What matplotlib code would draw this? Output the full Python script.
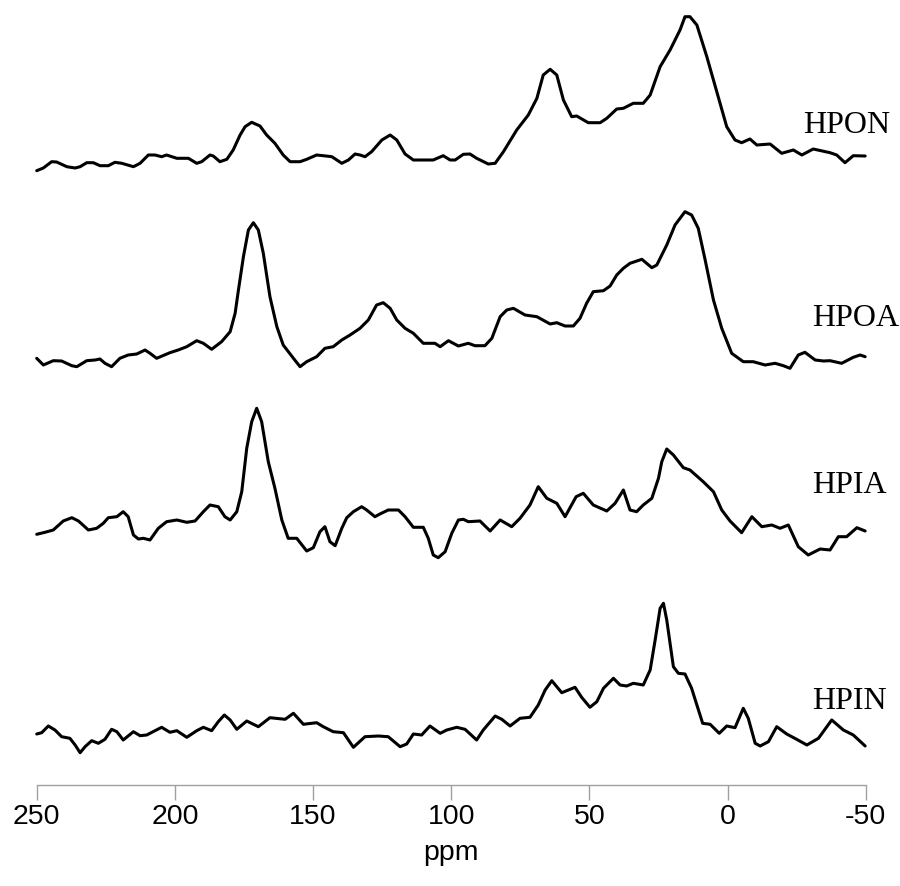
import matplotlib
matplotlib.use("Agg")
import matplotlib.pyplot as plt

# --- data (ppm, intensity a.u. relative to each baseline) ---
HPON_PPM = [250.0, 247.6, 244.6, 242.8, 239.1, 236.1, 234.3, 231.9, 229.5, 227.1,
            224.1, 221.7, 219.2, 215.0, 212.6, 209.6, 207.2, 204.8, 203.0, 199.3,
            195.1, 192.1, 190.3, 187.3, 186.1, 183.7, 181.2, 178.9, 176.4, 174.6,
            172.2, 169.2, 166.8, 163.8, 160.8, 158.3, 154.7, 152.3, 148.7, 146.3,
            143.2, 139.6, 137.2, 134.8, 133.0, 131.2, 128.8, 125.1, 122.1, 119.7,
            116.7, 113.7, 106.5, 102.9, 100.4, 98.6, 95.6, 93.2, 90.8, 86.6,
            84.1, 81.1, 76.3, 72.1, 69.0, 66.7, 64.2, 61.8, 59.4, 56.4,
            54.6, 50.4, 46.1, 43.7, 40.1, 37.7, 34.1, 30.5, 28.0, 24.4,
            20.8, 17.2, 15.4, 13.6, 11.1, 7.5, 3.9, 0.3, -2.7, -5.1,
            -8.1, -10.6, -15.4, -19.6, -23.8, -26.9, -31.0, -37.1, -39.5, -42.5,
            -45.5, -49.8]
HPON_INT = [-5.7, -3, 3.3, 3, -1.7, -3, -1.7, 2.3, 2.3, -0.7,
            -0.7, 2.7, 1.7, -1.7, 1.7, 10, 10, 8.3, 10, 6.7,
            6.7, 1.7, 3.3, 10, 9, 3.3, 5.7, 15, 30, 38.3,
            42.7, 39, 30, 21.7, 10, 3.3, 3.3, 5.7, 10, 9.3,
            8.3, 1.7, 5, 11, 10, 8.3, 13.3, 25, 30, 25,
            11, 5, 5, 9.3, 5, 5, 10.7, 11, 6.7, 1,
            1.7, 13.3, 35, 50, 66.7, 90, 95.7, 90, 65, 48.3,
            49, 42.3, 42.3, 46.7, 56, 56.7, 61.7, 61.7, 70, 98.3,
            115, 135, 148.3, 148.3, 140, 108.3, 73.3, 38.3, 25, 22.3,
            26, 20, 21, 11.7, 15, 10, 16, 12.3, 10, 2.3,
            9.3, 9]

HPOA_PPM = [250.0, 247.6, 244.0, 241.0, 237.3, 235.5, 231.9, 228.9, 227.1, 225.3,
            222.9, 219.9, 216.9, 213.8, 210.8, 209.0, 206.6, 201.8, 198.8, 195.7,
            192.1, 189.7, 186.7, 183.1, 180.0, 178.2, 177.0, 175.2, 173.4, 171.6,
            169.8, 168.0, 165.6, 163.1, 160.8, 157.1, 154.7, 152.3, 148.7, 145.7,
            142.7, 139.6, 136.6, 133.0, 130.0, 127.0, 124.6, 122.1, 119.7, 116.7,
            113.7, 110.1, 105.9, 104.0, 101.0, 97.4, 93.8, 91.4, 87.8, 85.3,
            82.3, 79.9, 77.5, 73.3, 69.0, 64.2, 61.8, 58.8, 55.8, 53.4,
            51.0, 48.6, 44.9, 42.5, 40.1, 37.7, 35.3, 31.0, 27.4, 25.6,
            22.0, 19.0, 15.4, 13.0, 10.6, 8.1, 5.1, 2.1, -1.5, -5.7,
            -9.3, -13.6, -17.2, -20.2, -22.6, -25.6, -28.0, -31.7, -34.7, -37.1,
            -41.3, -45.5, -48.0, -49.8]
HPOA_INT = [3.7, -3, 1.3, 1, -3.7, -4.7, 1.3, 2, 3, -1.3,
            -4.7, 3.7, 7, 8, 12, 8.7, 3.7, 9.3, 12, 15.3,
            21.3, 18.7, 12.7, 20.3, 30.3, 48.7, 72, 105.3, 132, 139.3,
            132, 108.7, 65.3, 35.3, 17, 3.7, -4.7, 0.3, 5.3, 13.7,
            15.3, 22, 27, 33.7, 42, 57, 59.3, 53.7, 42, 33.7,
            28.7, 18.7, 18.7, 15.3, 21.3, 16, 18.7, 16.3, 16.3, 23.7,
            45.3, 52, 53.7, 47, 45.3, 38, 39.3, 36, 36, 43.7,
            58.7, 70.3, 71.3, 76, 87, 93.7, 98.7, 102.7, 94.3, 97,
            117, 137, 150.3, 147, 133.7, 102, 62, 33.7, 8.7, 0.3,
            0.3, -3, -1.3, -3.7, -6.3, 7, 9.7, 2, 1, 1.3,
            -1.3, 4.7, 7, 5.3]

HPIA_PPM = [250.0, 247.0, 244.0, 240.4, 237.3, 234.9, 231.3, 228.3, 225.9, 224.1,
            221.0, 218.7, 216.9, 215.0, 213.2, 211.4, 209.0, 206.0, 203.0, 199.3,
            195.7, 192.7, 189.7, 187.3, 184.3, 181.9, 180.0, 177.6, 175.8, 174.0,
            172.2, 170.4, 168.6, 166.2, 163.8, 161.3, 159.0, 155.9, 152.3, 149.9,
            147.5, 145.7, 143.9, 142.0, 139.6, 137.8, 135.4, 132.4, 130.6, 127.6,
            125.8, 122.8, 119.1, 116.7, 113.7, 110.1, 108.3, 106.5, 104.7, 102.2,
            99.8, 97.4, 95.6, 93.8, 89.6, 85.9, 82.3, 78.1, 75.1, 71.5,
            68.5, 65.4, 61.8, 58.8, 54.8, 52.2, 48.6, 43.7, 40.7, 37.7,
            35.3, 32.9, 30.5, 27.4, 25.0, 23.8, 22.0, 19.6, 16.0, 13.6,
            8.8, 5.1, 2.1, -0.9, -5.1, -8.8, -12.4, -16.0, -19.0, -22.0,
            -25.6, -29.2, -33.5, -37.1, -40.1, -43.1, -46.8, -49.8]
HPIA_INT = [0.7, 2.7, 5, 14, 17.3, 14, 5, 6.7, 11.7, 17.3,
            18.3, 23.3, 18.3, 0, -4, -3.3, -5, 6.7, 13.3, 15,
            12.7, 14, 23.3, 30, 28.3, 18.3, 15, 23.3, 43.3, 86.7,
            113.3, 126.7, 113.3, 73.3, 46.7, 15, -3.3, -3.3, -16, -12.7,
            3.3, 8.3, -6.7, -10.7, 6.7, 17.3, 23.3, 28.3, 25, 18.3,
            21, 25, 25, 18.3, 7.7, 7.7, -3.3, -20, -22.7, -16.7,
            1.7, 15, 15.7, 13.3, 14, 4, 15, 8.3, 16.7, 30,
            48.3, 36.7, 31.7, 18.3, 38.3, 41.7, 30, 24, 31.7, 45,
            25, 23.3, 30, 36.7, 56.7, 73.3, 86, 80, 67.3, 65,
            53.3, 43.3, 25, 14, 2.3, 18.3, 8.3, 10, 6.7, 10,
            -11.7, -20, -14, -15, -1.7, -1.7, 7.3, 4]

HPIN_PPM = [250.0, 248.2, 245.8, 243.4, 241.0, 238.0, 236.1, 234.3, 232.5, 230.1,
            227.7, 225.3, 222.9, 221.0, 218.7, 215.0, 212.6, 210.2, 204.8, 201.8,
            199.3, 195.7, 192.1, 189.7, 186.7, 184.3, 182.1, 180.0, 177.6, 174.0,
            169.8, 165.6, 160.1, 157.1, 153.5, 148.7, 146.3, 142.7, 139.0, 135.4,
            131.2, 126.4, 122.8, 118.5, 116.1, 113.7, 110.7, 107.7, 104.0, 101.6,
            98.0, 95.0, 90.8, 88.4, 84.1, 81.7, 78.7, 75.1, 71.5, 68.5,
            66.0, 63.6, 60.0, 55.2, 52.8, 49.8, 47.3, 44.9, 41.3, 38.9,
            36.5, 34.1, 30.5, 28.0, 26.2, 24.4, 23.2, 22.0, 19.6, 17.8,
            15.4, 13.0, 11.1, 9.0, 6.3, 3.0, 0.3, -2.7, -5.7, -7.5,
            -10.0, -11.8, -14.8, -17.8, -21.4, -25.0, -28.7, -32.9, -37.7, -41.9,
            -45.5, -49.8]
HPIN_INT = [1, 2.3, 9, 5, -1.7, -3.3, -10, -17.7, -11.7, -5.7,
            -8.3, -4.3, 5.7, 3.3, -5, 3.3, -0.7, 0, 7.7, 2.7,
            4.3, -2.3, 4.3, 7.7, 4.3, 13.3, 20, 15, 5.7, 14,
            8.3, 17.3, 15.7, 21.7, 10.7, 12.3, 8.3, 3.3, 2.3, -12.3,
            -1.7, -1, -1.7, -11.7, -9, 1, 0, 9, 1.7, 5,
            7.7, 5.7, -5, 5, 19, 15.7, 9, 16.7, 17.7, 30,
            45, 54.3, 42.3, 47.7, 37.7, 27.7, 33.3, 46.7, 56.7, 50,
            49, 51.7, 50, 65, 95, 126.7, 131.7, 115, 68.3, 61.7,
            61, 46.7, 30, 11.7, 10.7, 1.7, 9, 7.3, 26.7, 16.7,
            -8.3, -11, -6.7, 8.3, 1, -4.3, -10, -3.3, 15, 5,
            0, -11]

NAMES = ["HPON", "HPOA", "HPIA", "HPIN"]
OFFSETS = [620, 423, 250, 50]
LABEL_X = [-27.3, -30.6, -30.6, -30.6]
LABEL_Y = [652, 459, 292, 76]
XTICKS = [250, 200, 150, 100, 50, 0, -50]

series = [(HPON_PPM, HPON_INT), (HPOA_PPM, HPOA_INT),
          (HPIA_PPM, HPIA_INT), (HPIN_PPM, HPIN_INT)]

fig = plt.figure(figsize=(9, 8.86), dpi=100)
ax = fig.add_axes([0.0408, 0.114, 0.9211, 0.886])

for (x, y), off in zip(series, OFFSETS):
    ax.plot(x, [v + off for v in y], color="black", lw=2.2,
            solid_joinstyle="round", solid_capstyle="round", clip_on=False)

for name, lx, ly in zip(NAMES, LABEL_X, LABEL_Y):
    ax.text(lx, ly, name, family="Liberation Serif", fontsize=23,
            ha="left", va="baseline")

ax.set_xlim(250, -50)
ax.set_ylim(0, 785)
ax.set_yticks([])
for s in ["left", "top", "right"]:
    ax.spines[s].set_visible(False)
ax.spines["bottom"].set_color("#a0a0a0")
ax.spines["bottom"].set_linewidth(1.0)

ax.set_xticks(XTICKS)
ax.set_xticklabels([str(t) for t in XTICKS], family="Liberation Sans", fontsize=20.5)
ax.tick_params(axis="x", length=11, width=1.0, color="#a0a0a0", pad=3)
ax.set_xlabel("ppm", family="Liberation Sans", fontsize=20.5, labelpad=7)

fig.savefig("out.png", dpi=100)
